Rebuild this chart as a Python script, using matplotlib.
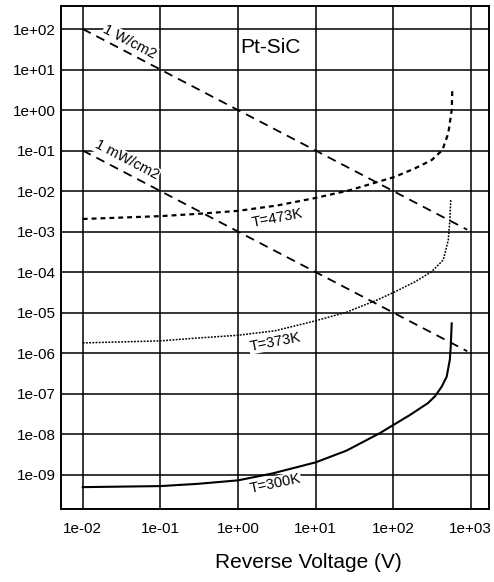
'''
plot.py
reverse I-V curves of a Pt-SiC diode with power lines
'''
import matplotlib
matplotlib.use('Agg')
import matplotlib.pyplot as plt
from matplotlib.ticker import FixedLocator, FuncFormatter

plt.rcParams['font.family'] = ['Liberation Sans', 'DejaVu Sans']

# values
v_473 = [0.01, 0.1, 0.32, 1, 3.2, 9.8, 27.7, 62, 105, 191, 313, 430, 513, 568, 578]
i_473 = [2.04e-3, 2.4e-3, 2.75e-3, 3.24e-3, 4.4e-3, 6.7e-3, 1.05e-2, 1.66e-2,
         2.24e-2, 3.63e-2, 5.8e-2, 0.102, 0.266, 1.0, 3.1]

v_373 = [0.01, 0.1, 0.3, 1, 3, 9.8, 25, 62, 105, 191, 313, 443, 513, 537, 552]
i_373 = [1.78e-6, 2.0e-6, 2.35e-6, 2.75e-6, 3.55e-6, 6.2e-6, 1.02e-5, 2.04e-5,
         3.24e-5, 5.75e-5, 1.02e-4, 2.0e-4, 6.2e-4, 1.9e-3, 6.0e-3]

v_300 = [0.01, 0.1, 0.3, 1, 2.8, 10, 25, 67, 164, 280, 346, 422, 489, 537, 552, 568]
i_300 = [4.9e-10, 5.2e-10, 5.9e-10, 7.2e-10, 1.07e-9, 2.0e-9, 3.9e-9, 1.05e-8,
         2.95e-8, 5.8e-8, 8.6e-8, 1.48e-7, 2.6e-7, 6.8e-7, 1.45e-6, 5.4e-6]

v_pow = [0.01, 900]
i_1w = [100, 1/900]
i_1mw = [0.1, 1e-3/900]

xticks = [1e-2, 1e-1, 1e0, 1e1, 1e2, 1e3]
yticks = [1e2, 1e1, 1e0, 1e-1, 1e-2, 1e-3, 1e-4, 1e-5, 1e-6, 1e-7, 1e-8, 1e-9]

fig = plt.figure(figsize=(4.94, 5.82), dpi=100)
ax = fig.add_axes([0.1235, 0.1254, 0.8664, 0.8643])
ax.set_xscale('log')
ax.set_yscale('log')
ax.set_xlim(10**-2.28, 10**3.235)
ax.set_ylim(10**-9.85, 10**2.568)

# grid
ax.xaxis.set_major_locator(FixedLocator(xticks))
ax.yaxis.set_major_locator(FixedLocator(yticks))
ax.xaxis.set_minor_locator(FixedLocator([]))
ax.yaxis.set_minor_locator(FixedLocator([]))
fmt = FuncFormatter(lambda v, p: '%.0e' % v)
ax.xaxis.set_major_formatter(fmt)
ax.yaxis.set_major_formatter(fmt)
ax.grid(True, color='black', lw=1.1)
ax.tick_params(length=0, labelsize=11, pad=4)
ax.tick_params(axis='x', pad=9)
for s in ax.spines.values():
    s.set_linewidth(1.4)

# power lines
ax.plot(v_pow, i_1w, color='black', lw=1.3, dashes=(5, 3.5))
ax.plot(v_pow, i_1mw, color='black', lw=1.3, dashes=(5, 3.5))

# curves
ax.plot(v_473, i_473, color='black', lw=1.6, dashes=(2.2, 1.8))
ax.plot(v_373, i_373, color='black', lw=1.1, dashes=(1.2, 0.9))
ax.plot(v_300, i_300, color='black', lw=1.5)

box = dict(facecolor='white', edgecolor='none', pad=0.5)
ax.text(0.0406, 47.6, '1 W/cm2', rotation=-27.6, ha='center', va='center',
        fontsize=10.5, bbox=box)
ax.text(0.037, 0.058, '1 mW/cm2', rotation=-27.6, ha='center', va='center',
        fontsize=10.5, bbox=box)
ax.text(3.18, 2.15e-3, 'T=473K', rotation=11, ha='center', va='center',
        fontsize=10.5, bbox=box)
ax.text(3.0, 1.87e-6, 'T=373K', rotation=11, ha='center', va='center',
        fontsize=10.5, bbox=box)
ax.text(3.0, 5.9e-10, 'T=300K', rotation=12, ha='center', va='center',
        fontsize=10.5, bbox=box)
ax.text(2.66, 34, 'Pt-SiC', ha='center', va='center', fontsize=15)

fig.text(308/494, 0.033, 'Reverse Voltage (V)', ha='center', va='center',
         fontsize=15)

fig.savefig('out.png', dpi=100)
